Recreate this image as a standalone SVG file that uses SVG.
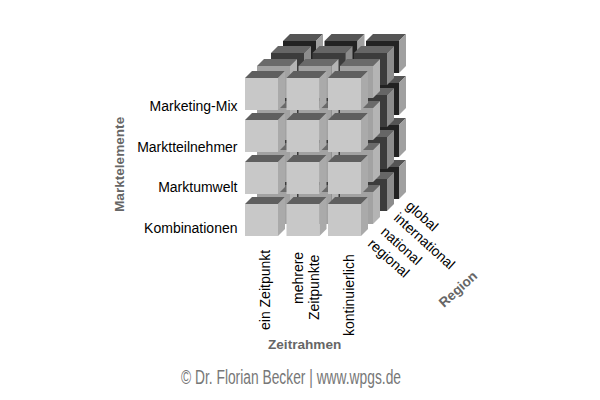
<svg xmlns="http://www.w3.org/2000/svg" width="600" height="400" viewBox="0 0 600 400">
<style>
text{font-family:"Liberation Sans",Arial,sans-serif;font-size:14px;fill:#000}
.h{font-weight:bold;fill:#666;font-size:13.6px}
.r{text-anchor:end}
</style>
<defs>
<g id="c1"><path d="M0 7H33V39H0Z" fill="#c8c8c8"/><path d="M0 7L7 0H40L33 7Z" fill="#5f5f5f"/><path d="M33 7L40 0V32L33 39Z" fill="#aaa"/></g>
<g id="c2"><path d="M0 7H33V39H0Z" fill="#a2a2a2"/><path d="M0 7L7 0H40L33 7Z" fill="#6a6a6a"/><path d="M33 7L40 0V32L33 39Z" fill="#b4b4b4"/></g>
<g id="c3"><path d="M0 7H33V39H0Z" fill="#3c3c3c"/><path d="M0 7L7 0H40L33 7Z" fill="#666"/><path d="M33 7L40 0V32L33 39Z" fill="#8c8c8c"/></g>
<g id="c4"><path d="M0 7H33V39H0Z" fill="#222"/><path d="M0 7L7 0H40L33 7Z" fill="#555"/><path d="M33 7L40 0V32L33 39Z" fill="#a0a0a0"/></g>
<g id="l4"><use href="#c4" x="0" y="0"/><use href="#c4" x="41.5" y="0"/><use href="#c4" x="83" y="0"/><use href="#c4" x="0" y="42"/><use href="#c4" x="41.5" y="42"/><use href="#c4" x="83" y="42"/><use href="#c4" x="0" y="84"/><use href="#c4" x="41.5" y="84"/><use href="#c4" x="83" y="84"/><use href="#c4" x="0" y="126"/><use href="#c4" x="41.5" y="126"/><use href="#c4" x="83" y="126"/></g>
<g id="l3"><use href="#c3" x="0" y="0"/><use href="#c3" x="41.5" y="0"/><use href="#c3" x="83" y="0"/><use href="#c3" x="0" y="42"/><use href="#c3" x="41.5" y="42"/><use href="#c3" x="83" y="42"/><use href="#c3" x="0" y="84"/><use href="#c3" x="41.5" y="84"/><use href="#c3" x="83" y="84"/><use href="#c3" x="0" y="126"/><use href="#c3" x="41.5" y="126"/><use href="#c3" x="83" y="126"/></g>
<g id="l2"><use href="#c2" x="0" y="0"/><use href="#c2" x="41.5" y="0"/><use href="#c2" x="83" y="0"/><use href="#c2" x="0" y="42"/><use href="#c2" x="41.5" y="42"/><use href="#c2" x="83" y="42"/><use href="#c2" x="0" y="84"/><use href="#c2" x="41.5" y="84"/><use href="#c2" x="83" y="84"/><use href="#c2" x="0" y="126"/><use href="#c2" x="41.5" y="126"/><use href="#c2" x="83" y="126"/></g>
<g id="l1"><use href="#c1" x="0" y="0"/><use href="#c1" x="41.5" y="0"/><use href="#c1" x="83" y="0"/><use href="#c1" x="0" y="42"/><use href="#c1" x="41.5" y="42"/><use href="#c1" x="83" y="42"/><use href="#c1" x="0" y="84"/><use href="#c1" x="41.5" y="84"/><use href="#c1" x="83" y="84"/><use href="#c1" x="0" y="126"/><use href="#c1" x="41.5" y="126"/><use href="#c1" x="83" y="126"/></g>
</defs>
<rect width="600" height="400" fill="#fff"/>
<g id="cube">
<use href="#l4" x="283" y="34"/>
<use href="#l3" x="271" y="46"/>
<use href="#l2" x="257" y="59"/>
<use href="#l1" x="245" y="71"/>
</g>
<g id="labels">
<text class="r" x="237.5" y="110.5">Marketing-Mix</text>
<text class="r" x="237.5" y="152">Marktteilnehmer</text>
<text class="r" x="237.5" y="191.5">Marktumwelt</text>
<text class="r" x="237.5" y="232.5">Kombinationen</text>
<text class="h" transform="translate(124,212) rotate(-90)">Marktelemente</text>
<text transform="translate(270,330) rotate(-90)">ein Zeitpunkt</text>
<text transform="translate(303,304) rotate(-90)">mehrere</text>
<text transform="translate(319,320) rotate(-90)">Zeitpunkte</text>
<text transform="translate(354,336) rotate(-90)">kontinuierlich</text>
<text transform="translate(405,207) rotate(42)">global</text>
<text transform="translate(393,219) rotate(42)">international</text>
<text transform="translate(380,233) rotate(42)">national</text>
<text transform="translate(367,245) rotate(42)">regional</text>
<text class="h" transform="translate(444,308) rotate(-42)">Region</text>
<text class="h" x="268" y="349">Zeitrahmen</text>
<text x="181" y="384" textLength="220" lengthAdjust="spacingAndGlyphs" style="font-size:20px;fill:#777">© Dr. Florian Becker | www.wpgs.de</text>
</g>
</svg>
